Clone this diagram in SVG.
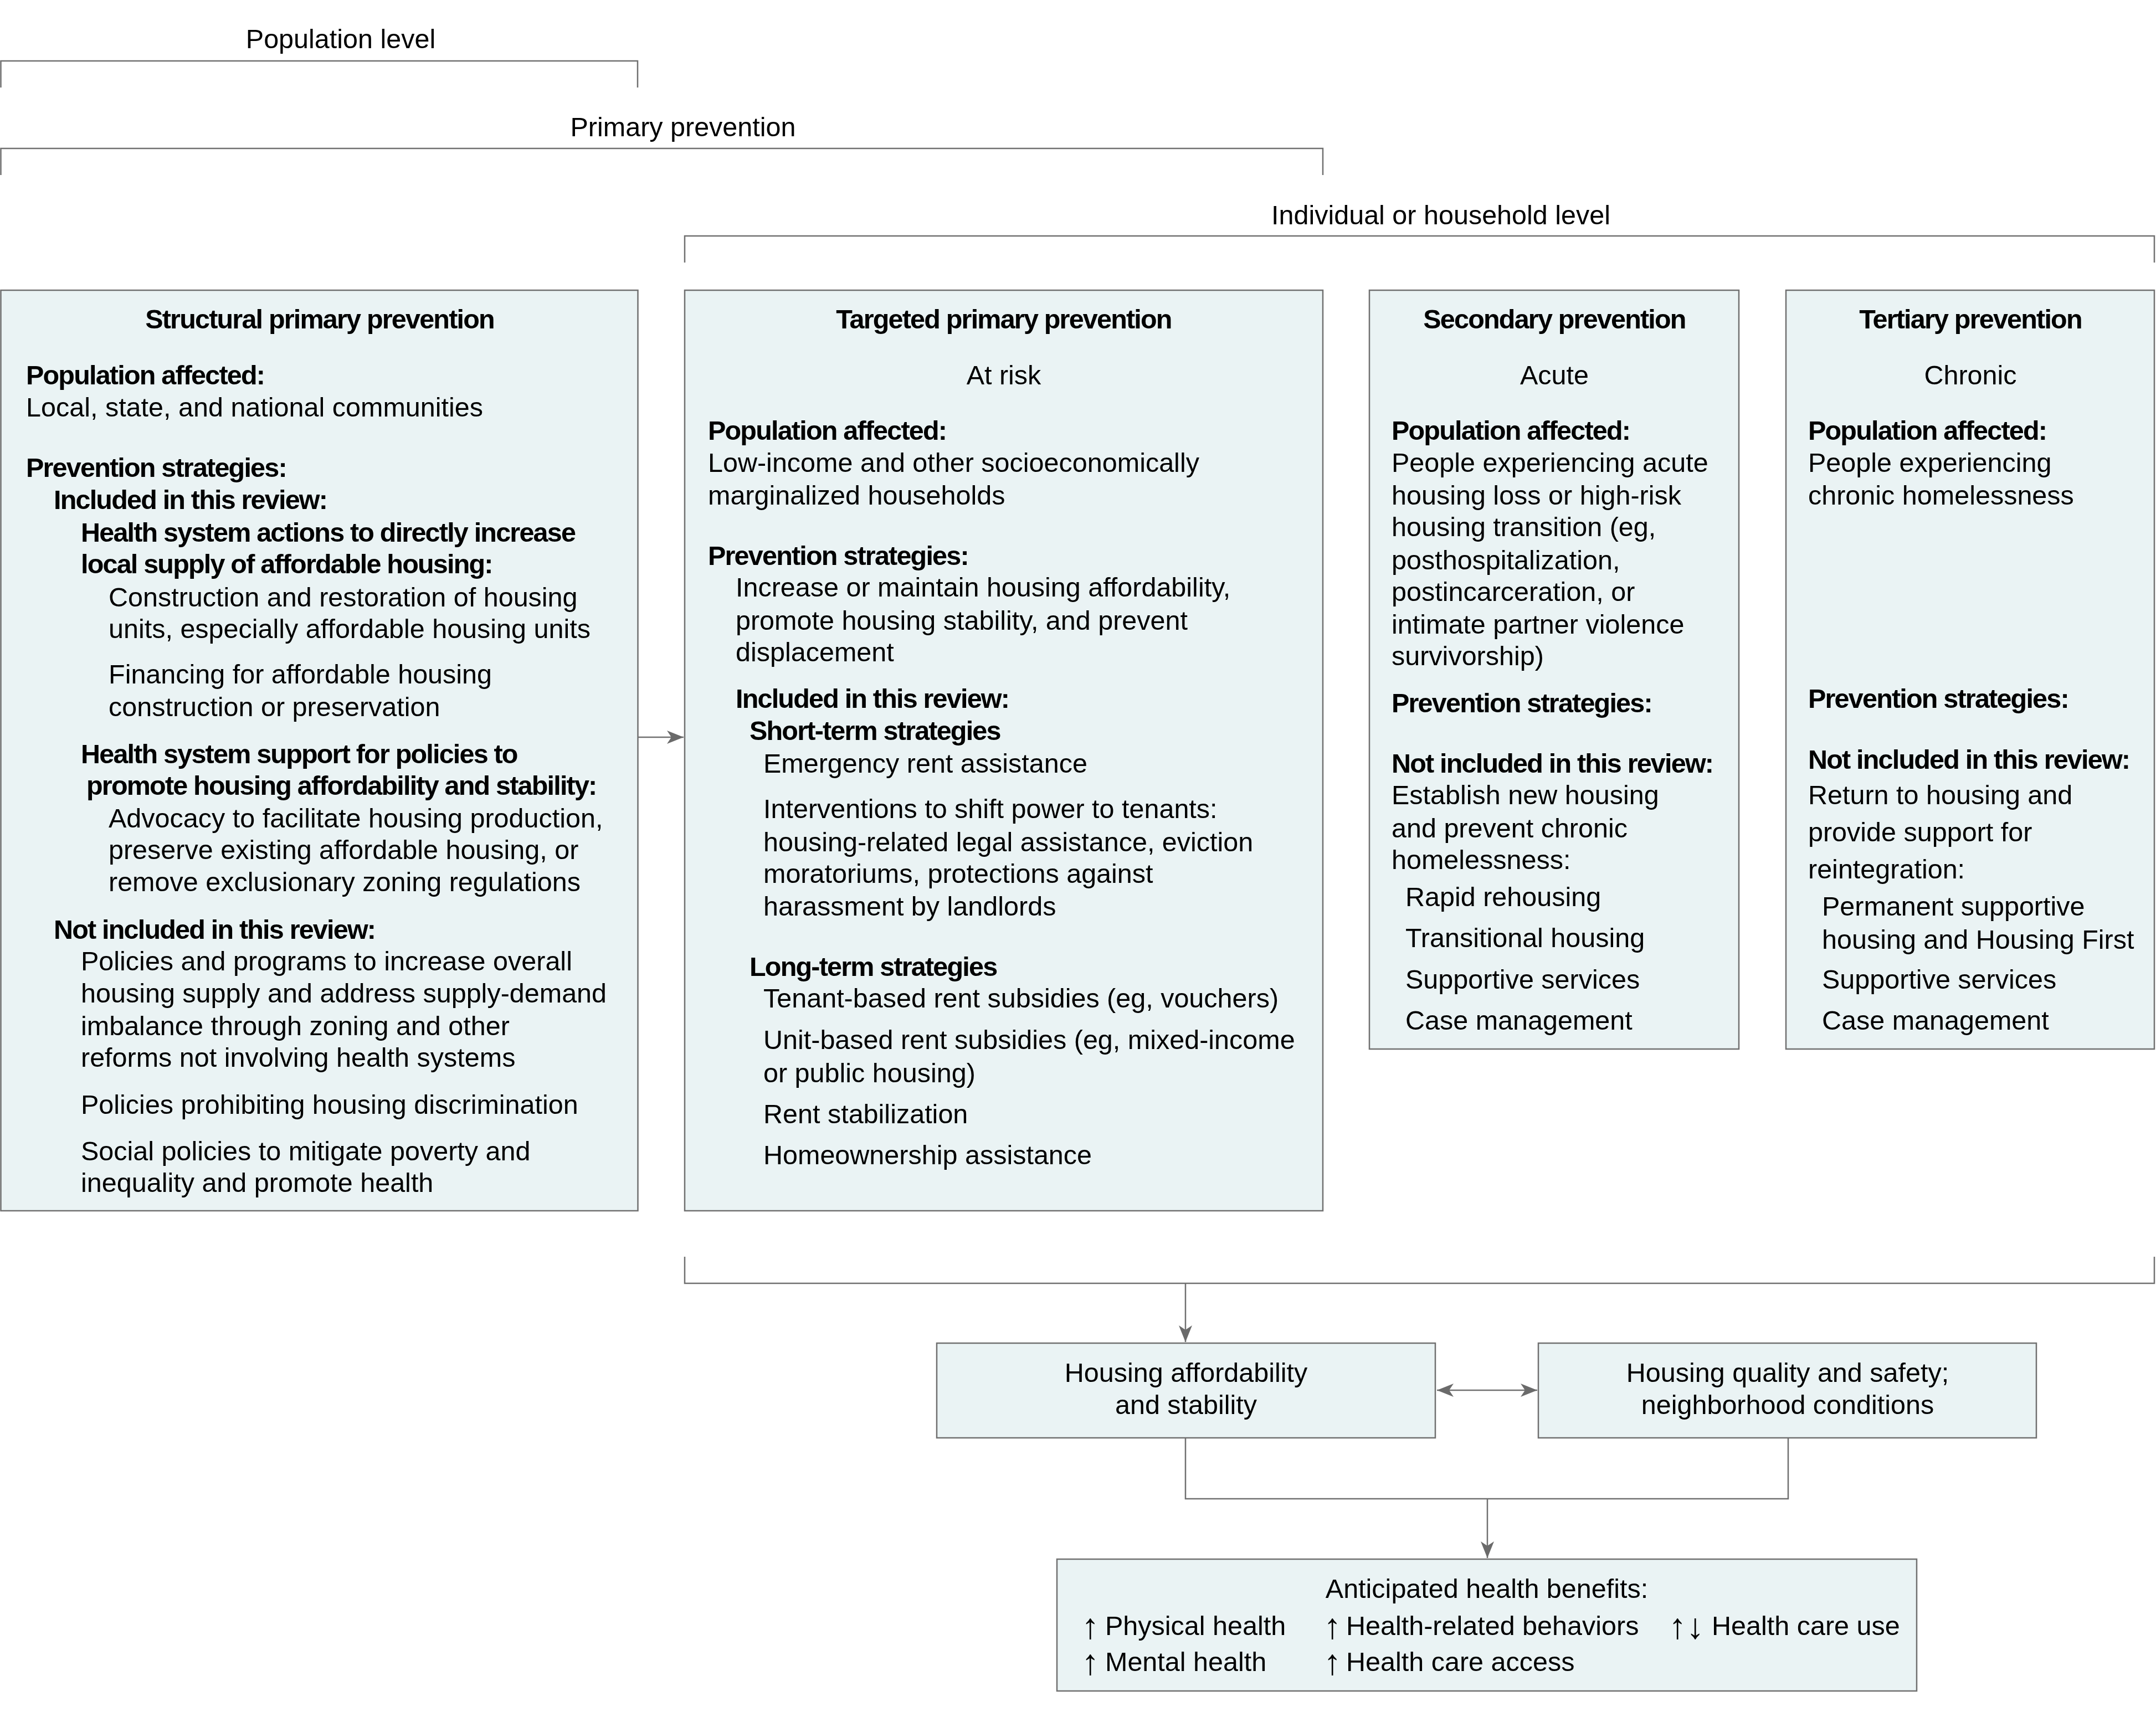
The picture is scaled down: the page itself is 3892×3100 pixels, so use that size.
<svg xmlns="http://www.w3.org/2000/svg" width="3892" height="3100" viewBox="0 0 3892 3100">
<defs>
<style>
.bg{fill:#ffffff}
.box{fill:#EAF3F4;stroke:#707070;stroke-width:2.5}
.ln{fill:none;stroke:#707070;stroke-width:2.5}
text{font-family:"Liberation Sans",Arial,sans-serif;font-size:48.5px;fill:#000}
.b{font-weight:bold;letter-spacing:-1.8px}
.c{text-anchor:middle}
.ar{font-size:64px}
</style>
<marker id="ah" viewBox="0 0 30 24" markerWidth="30" markerHeight="24" refX="30" refY="12" orient="auto-start-reverse" markerUnits="userSpaceOnUse">
<path d="M0,0 L30,12 L0,24 L8,12 Z" fill="#6a6a6a"/>
</marker>
</defs>
<rect class="bg" x="0" y="0" width="3892" height="3100"/>

<g id="level-labels">
<text class="c" x="615" y="87">Population level</text>
<text class="c" x="1233" y="246">Primary prevention</text>
<text class="c" x="2601" y="405">Individual or household level</text>
</g>

<g id="connectors">
<path class="ln" d="M1.5,158 V110 H1151 V158"/>
<path class="ln" d="M1.5,316 V268 H2388 V316"/>
<path class="ln" d="M1236,474 V426 H3889 V474"/>
<path class="ln" d="M1236,2269 V2317 H3889 V2269"/>
<line class="ln" x1="1152" y1="1331" x2="1234" y2="1331" marker-end="url(#ah)"/>
<line class="ln" x1="2140" y1="2317" x2="2140" y2="2423" marker-end="url(#ah)"/>
<line class="ln" x1="2594" y1="2510" x2="2775" y2="2510" marker-start="url(#ah)" marker-end="url(#ah)"/>
<path class="ln" d="M2140,2596 V2706 H3228 V2596"/>
<line class="ln" x1="2685" y1="2706" x2="2685" y2="2813" marker-end="url(#ah)"/>
</g>

<g id="structural">
<rect class="box" x="1.5" y="524" width="1150" height="1662"/>
<text class="b c" x="577" y="593">Structural primary prevention</text>
<text class="b" x="47" y="694">Population affected:</text>
<text x="47" y="752">Local, state, and national communities</text>
<text class="b" x="47" y="861">Prevention strategies:</text>
<text class="b" x="97" y="919">Included in this review:</text>
<text class="b" x="146" y="978">Health system actions to directly increase</text>
<text class="b" x="146" y="1035">local supply of affordable housing:</text>
<text x="196" y="1095">Construction and restoration of housing</text>
<text x="196" y="1152">units, especially affordable housing units</text>
<text x="196" y="1234">Financing for affordable housing</text>
<text x="196" y="1293">construction or preservation</text>
<text class="b" x="146" y="1378">Health system support for policies to</text>
<text class="b" x="156" y="1435">promote housing affordability and stability:</text>
<text x="196" y="1494">Advocacy to facilitate housing production,</text>
<text x="196" y="1551">preserve existing affordable housing, or</text>
<text x="196" y="1609">remove exclusionary zoning regulations</text>
<text class="b" x="97" y="1695">Not included in this review:</text>
<text x="146" y="1752">Policies and programs to increase overall</text>
<text x="146" y="1810">housing supply and address supply-demand</text>
<text x="146" y="1869">imbalance through zoning and other</text>
<text x="146" y="1926">reforms not involving health systems</text>
<text x="146" y="2011">Policies prohibiting housing discrimination</text>
<text x="146" y="2095">Social policies to mitigate poverty and</text>
<text x="146" y="2152">inequality and promote health</text>
</g>

<g id="targeted">
<rect class="box" x="1236" y="524" width="1152" height="1662"/>
<text class="b c" x="1812" y="593">Targeted primary prevention</text>
<text class="c" x="1812" y="694">At risk</text>
<text class="b" x="1278" y="794">Population affected:</text>
<text x="1278" y="852">Low-income and other socioeconomically</text>
<text x="1278" y="911">marginalized households</text>
<text class="b" x="1278" y="1020">Prevention strategies:</text>
<text x="1328" y="1077">Increase or maintain housing affordability,</text>
<text x="1328" y="1137">promote housing stability, and prevent</text>
<text x="1328" y="1194">displacement</text>
<text class="b" x="1328" y="1278">Included in this review:</text>
<text class="b" x="1353" y="1336">Short-term strategies</text>
<text x="1378" y="1395">Emergency rent assistance</text>
<text x="1378" y="1477">Interventions to shift power to tenants:</text>
<text x="1378" y="1537">housing-related legal assistance, eviction</text>
<text x="1378" y="1594">moratoriums, protections against</text>
<text x="1378" y="1653">harassment by landlords</text>
<text class="b" x="1353" y="1762">Long-term strategies</text>
<text x="1378" y="1819">Tenant-based rent subsidies (eg, vouchers)</text>
<text x="1378" y="1894">Unit-based rent subsidies (eg, mixed-income</text>
<text x="1378" y="1954">or public housing)</text>
<text x="1378" y="2028">Rent stabilization</text>
<text x="1378" y="2102">Homeownership assistance</text>
</g>

<g id="secondary">
<rect class="box" x="2472" y="524" width="667" height="1370"/>
<text class="b c" x="2806" y="593">Secondary prevention</text>
<text class="c" x="2806" y="694">Acute</text>
<text class="b" x="2512" y="794">Population affected:</text>
<text x="2512" y="852">People experiencing acute</text>
<text x="2512" y="911">housing loss or high-risk</text>
<text x="2512" y="968">housing transition (eg,</text>
<text x="2512" y="1028">posthospitalization,</text>
<text x="2512" y="1085">postincarceration, or</text>
<text x="2512" y="1144">intimate partner violence</text>
<text x="2512" y="1201">survivorship)</text>
<text class="b" x="2512" y="1286">Prevention strategies:</text>
<text class="b" x="2512" y="1395">Not included in this review:</text>
<text x="2512" y="1452">Establish new housing</text>
<text x="2512" y="1512">and prevent chronic</text>
<text x="2512" y="1569">homelessness:</text>
<text x="2537" y="1636">Rapid rehousing</text>
<text x="2537" y="1710">Transitional housing</text>
<text x="2537" y="1785">Supportive services</text>
<text x="2537" y="1859">Case management</text>
</g>

<g id="tertiary">
<rect class="box" x="3224" y="524" width="665" height="1370"/>
<text class="b c" x="3557" y="593">Tertiary prevention</text>
<text class="c" x="3557" y="694">Chronic</text>
<text class="b" x="3264" y="794">Population affected:</text>
<text x="3264" y="852">People experiencing</text>
<text x="3264" y="911">chronic homelessness</text>
<text class="b" x="3264" y="1278">Prevention strategies:</text>
<text class="b" x="3264" y="1388">Not included in this review:</text>
<text x="3264" y="1452">Return to housing and</text>
<text x="3264" y="1519">provide support for</text>
<text x="3264" y="1586">reintegration:</text>
<text x="3289" y="1653">Permanent supportive</text>
<text x="3289" y="1713">housing and Housing First</text>
<text x="3289" y="1785">Supportive services</text>
<text x="3289" y="1859">Case management</text>
</g>

<g id="affordability">
<rect class="box" x="1691" y="2425" width="900" height="171"/>
<text class="c" x="2141" y="2495">Housing affordability</text>
<text class="c" x="2141" y="2553">and stability</text>
</g>

<g id="quality">
<rect class="box" x="2777" y="2425" width="899" height="171"/>
<text class="c" x="3227" y="2495">Housing quality and safety;</text>
<text class="c" x="3227" y="2553">neighborhood conditions</text>
</g>

<g id="benefits">
<rect class="box" x="1908" y="2815" width="1552" height="238"/>
<text class="c" x="2684" y="2885">Anticipated health benefits:</text>
<text class="ar" x="1952" y="2958">↑</text>
<text x="1995" y="2952">Physical health</text>
<text class="ar" x="1952" y="3023">↑</text>
<text x="1995" y="3017">Mental health</text>
<text class="ar" x="2389" y="2958">↑</text>
<text x="2430" y="2952">Health-related behaviors</text>
<text class="ar" x="2389" y="3023">↑</text>
<text x="2430" y="3017">Health care access</text>
<text class="ar" x="3012" y="2958">↑↓</text>
<text x="3090" y="2952">Health care use</text>
</g>
</svg>
